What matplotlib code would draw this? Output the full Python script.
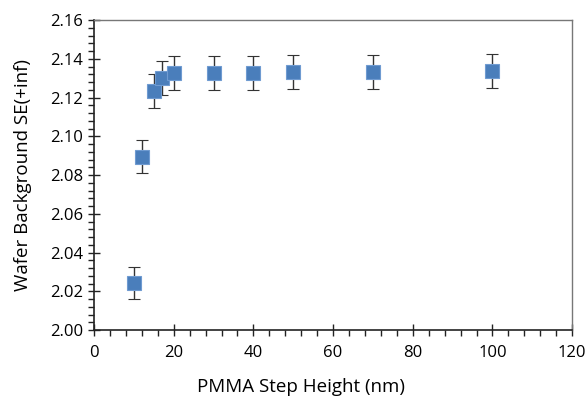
import matplotlib
matplotlib.use("Agg")
import matplotlib.pyplot as plt
from matplotlib.ticker import MultipleLocator

# step heights (nm) and measured wafer background
step_height = [10, 12, 15, 17, 20, 30, 40, 50, 70, 100]
se_inf = [2.0243, 2.0895, 2.1234, 2.1302, 2.1325, 2.1326, 2.1326, 2.1330, 2.1332, 2.1336]
err = [0.0082, 0.0085, 0.0089, 0.0088, 0.0088, 0.0088, 0.0088, 0.0088, 0.0088, 0.0088]

plt.rcParams['font.family'] = ['Open Sans', 'DejaVu Sans']

fig = plt.figure(figsize=(5.88, 4.03), dpi=100)
ax = fig.add_axes([0.160, 0.181, 0.813, 0.769])

ax.errorbar(step_height, se_inf, yerr=err, fmt='s', color='#4a7ebb',
            markersize=10, markeredgecolor='#6f9bd1', markeredgewidth=0.8,
            ecolor='#333333', elinewidth=1, capsize=4, capthick=1, zorder=3)

ax.set_xlim(0, 120)
ax.set_ylim(2.00, 2.16)
ax.xaxis.set_major_locator(MultipleLocator(20))
ax.xaxis.set_minor_locator(MultipleLocator(4))
ax.yaxis.set_major_locator(MultipleLocator(0.02))
ax.yaxis.set_minor_locator(MultipleLocator(0.004))
ax.yaxis.set_major_formatter(plt.FormatStrFormatter('%.2f'))

ax.tick_params(which='major', direction='inout', length=9, width=1, labelsize=12, color='#222222')
ax.tick_params(which='minor', direction='out', length=4, width=1, color='#222222')
ax.tick_params(axis='x', pad=6)

for side in ['left', 'bottom']:
    ax.spines[side].set_color('#222222')
    ax.spines[side].set_linewidth(1.2)
for side in ['right', 'top']:
    ax.spines[side].set_color('#777777')
    ax.spines[side].set_linewidth(1)

ax.set_xlabel('PMMA Step Height (nm)', fontsize=13.5)
ax.set_ylabel('Wafer Background SE(+inf)', fontsize=13.5)
# excel put the x title a bit left of centre
ax.xaxis.set_label_coords(0.433, -0.155)
ax.yaxis.set_label_coords(-0.13, 0.5)

plt.savefig("out.png", dpi=100)
